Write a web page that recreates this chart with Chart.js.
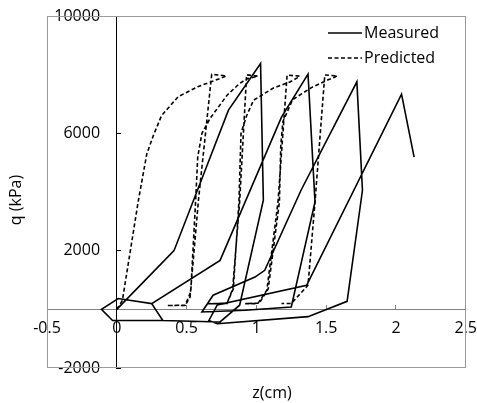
<!DOCTYPE html>
<html>
<head>
<meta charset="utf-8">
<script src="https://cdn.jsdelivr.net/npm/chart.js@4.4.1/dist/chart.umd.min.js"></script>
<style>
  body { margin: 0; background: #fff; }
  #wrap { width: 477px; height: 403px; position: relative; }
</style>
</head>
<body>
<div id="wrap"><canvas id="qzChart"></canvas></div>
<script>
// measured q-z loops (null = break in the line)
const measuredZ = [0, 0.41, 0.80, 1.03, 1.05, 0.88, 0.74, 0.33, -0.03, -0.11, 0.01, 0.25,
    0.74, 1.18, 1.37, 1.42, 1.25, 0.92, 0.61,
    0.69, 0.99, 1.06, 1.32, 1.72, 1.76, 1.65, 1.37, 0.72, 0.66,
    0.72, 1.36, 2.04, 2.13,
    null, 0.33, 0.25];
const measuredQ = [0, 2000, 6790, 8380, 3720, 140, -430, -380, -380, 0, 370, 195,
    1670, 6550, 8020, 3660, 80, -30, -90,
    480, 1100, 1330, 4060, 7755, 4060, 273, -250, -490, -380,
    150, 820, 7335, 5190,
    null, -380, 195];

const predictedZ = [0, 0.04, 0.155, 0.215, 0.26, 0.32, 0.44, 0.58, 0.74, 0.785, 0.68, 0.585, 0.525, 0.49, 0.36,
    0.49, 0.53, 0.565, 0.58, 0.61, 0.67, 0.79, 0.88, 0.93, 1.01, 0.93, 0.88, 0.83, 0.79, 0.65,
    0.79, 0.835, 0.875, 0.89, 0.93, 0.98, 1.12, 1.24, 1.29, 1.31, 1.22, 1.155, 1.075, 1.01, 0.92,
    1.02, 1.085, 1.165, 1.175, 1.19, 1.26, 1.40, 1.51, 1.56, 1.58, 1.49, 1.42, 1.37, 1.25, 1.18];
const predictedQ = [0, 300, 3720, 5300, 5900, 6600, 7250, 7590, 7870, 7960, 8010, 3720, 420, 130, 130,
    140, 600, 3720, 5200, 6000, 6520, 7300, 7700, 7850, 7950, 7995, 3660, 700, 200, 190,
    210, 700, 3660, 6000, 6600, 7130, 7540, 7750, 7880, 7950, 7985, 3660, 650, 195, 195,
    210, 700, 3660, 5600, 6400, 7150, 7575, 7815, 7915, 7960, 7990, 3660, 820, 200, 200];

const xTicks = [-0.5, 0, 0.5, 1, 1.5, 2, 2.5];
const yTicks = [-2000, 2000, 6000, 10000];

const toPoints = (zs, qs) => zs.map((z, i) => ({ x: z, y: qs[i] }));
const setTicks = list => scale => { scale.ticks = list.map(v => ({ value: v })); };

const FONT = { family: "'Open Sans', sans-serif", size: 16 };

const plotFrame = {
    id: "plotFrame",
    beforeDatasetsDraw(chart) {
        const { ctx, chartArea: a } = chart;
        ctx.save();
        ctx.strokeStyle = "#9a9a9a";
        ctx.lineWidth = 1;
        ctx.strokeRect(Math.round(a.left) + 0.5, Math.round(a.top) + 0.5, Math.round(a.width) - 1, Math.round(a.height) - 1);
        ctx.restore();
    }
};

const axisTitles = {
    id: "axisTitles",
    afterDraw(chart) {
        const { ctx } = chart;
        ctx.save();
        ctx.fillStyle = "#000";
        ctx.font = `${FONT.size}px ${FONT.family}`;
        ctx.textAlign = "center";
        ctx.textBaseline = "middle";
        ctx.fillText("z(cm)", 272, 393);
        ctx.translate(16, 200);
        ctx.rotate(-Math.PI / 2);
        ctx.fillText("q (kPa)", 0, 0);
        ctx.restore();
    }
};

const lineLegend = {
    id: "lineLegend",
    afterDraw(chart) {
        const { ctx } = chart;
        ctx.save();
        ctx.font = `${FONT.size}px ${FONT.family}`;
        ctx.textBaseline = "middle";
        ctx.fillStyle = "#000";
        chart.data.datasets.forEach((ds, i) => {
            const y = 33 + i * 25;
            ctx.strokeStyle = ds.borderColor;
            ctx.lineWidth = ds.borderWidth;
            ctx.setLineDash(ds.borderDash || []);
            ctx.beginPath();
            ctx.moveTo(328, y);
            ctx.lineTo(362, y);
            ctx.stroke();
            ctx.fillText(ds.label, 364, y);
        });
        ctx.restore();
    }
};

new Chart(document.getElementById("qzChart"), {
    type: "scatter",
    data: {
        datasets: [{
            label: "Measured",
            data: toPoints(measuredZ, measuredQ),
            showLine: true,
            borderColor: "#000",
            borderWidth: 1.6,
            pointRadius: 0,
            tension: 0,
            spanGaps: false
        }, {
            label: "Predicted",
            data: toPoints(predictedZ, predictedQ),
            showLine: true,
            borderColor: "#000",
            borderWidth: 1.6,
            borderDash: [4, 2.5],
            pointRadius: 0,
            tension: 0,
            spanGaps: false
        }]
    },
    options: {
        responsive: true,
        maintainAspectRatio: false,
        animation: false,
        layout: { padding: { left: 47, top: 16, right: 11, bottom: 35 } },
        plugins: { legend: { display: false }, tooltip: { enabled: false } },
        scales: {
            // tick labels, set just below the q = 0 line
            x: {
                type: "linear",
                min: -0.5,
                max: 2.5,
                position: { y: -340 },
                afterBuildTicks: setTicks(xTicks),
                grid: { display: false, drawTicks: false },
                border: { display: false },
                ticks: { padding: 0, color: "#000", font: FONT, maxRotation: 0, autoSkip: false, callback: v => String(v) }
            },
            // the z axis line itself, with small inward ticks
            xAxisLine: {
                axis: "x",
                type: "linear",
                min: -0.5,
                max: 2.5,
                position: { y: 0 },
                afterBuildTicks: setTicks(xTicks),
                grid: { drawOnChartArea: false, drawTicks: true, tickLength: -5, color: "#808080" },
                border: { color: "#808080", width: 1 },
                ticks: { display: false }
            },
            y: {
                type: "linear",
                min: -2000,
                max: 10000,
                position: { x: -0.12 },
                afterBuildTicks: setTicks(yTicks),
                grid: { display: false, drawTicks: false },
                border: { display: false },
                ticks: { color: "#000", font: FONT, autoSkip: false, callback: v => String(v) }
            },
            yAxisLine: {
                axis: "y",
                type: "linear",
                min: -2000,
                max: 10000,
                position: { x: 0 },
                afterBuildTicks: setTicks(yTicks),
                grid: { drawOnChartArea: false, drawTicks: true, tickLength: -5, color: "#000" },
                border: { color: "#000", width: 1 },
                ticks: { display: false }
            }
        }
    },
    plugins: [plotFrame, axisTitles, lineLegend]
});
</script>
</body>
</html>
